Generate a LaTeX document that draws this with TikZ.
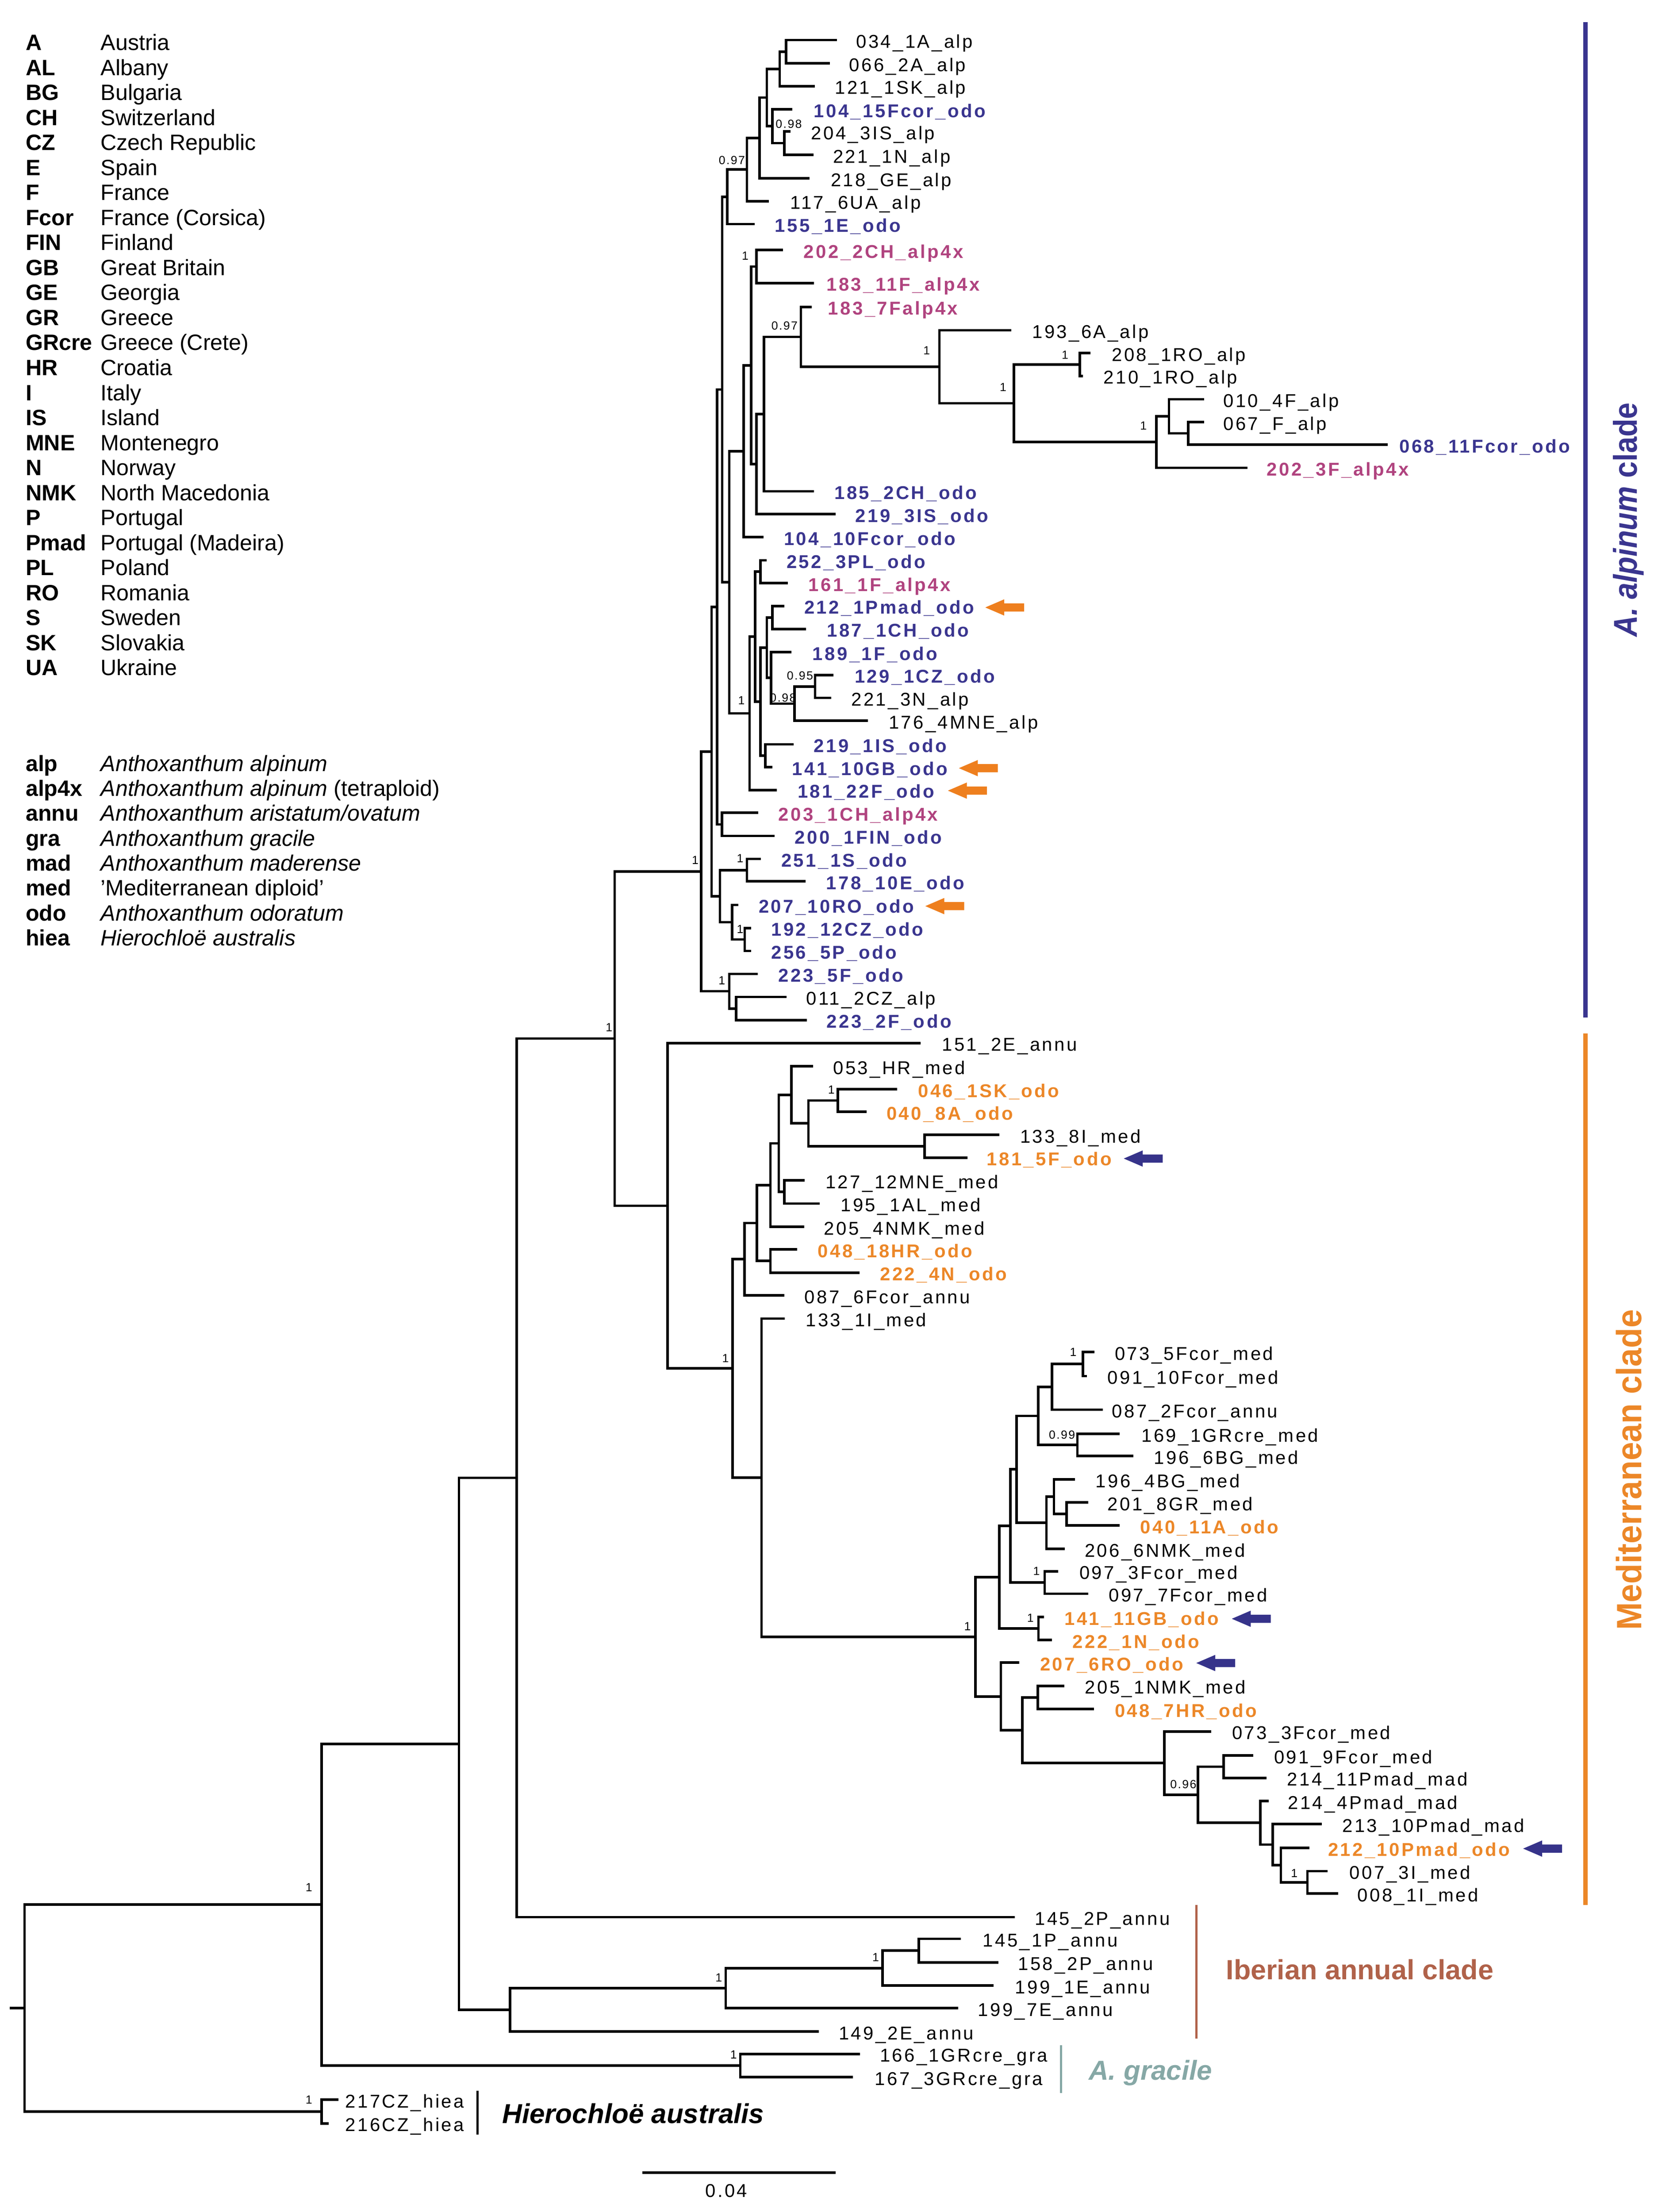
\documentclass[tikz,border=0pt]{standalone}
\usepackage{fontspec}
\setmainfont{Liberation Sans}
\newfontfamily\labf[LetterSpace=10.5]{Liberation Sans}
\newfontfamily\supf[LetterSpace=9]{Liberation Sans}
\usetikzlibrary{calc}
\definecolor{cblue}{HTML}{3A358F}
\definecolor{cpink}{HTML}{B0437F}
\definecolor{corange}{HTML}{EC8728}
\definecolor{cbrown}{HTML}{B0624A}
\definecolor{cteal}{HTML}{86A8A6}
\definecolor{aorange}{HTML}{EE7F1E}
\definecolor{ablue}{HTML}{36338A}
\tikzset{
  br/.style={line width=1.8pt},
  lab/.style={inner sep=0pt, anchor=base west, font=\labf\fontsize{13.2}{14}\selectfont},
  labk/.style={lab, text=black},
  labb/.style={lab, text=cblue, font=\labf\fontsize{13.2}{14}\selectfont\bfseries},
  labp/.style={lab, text=cpink, font=\labf\fontsize{13.2}{14}\selectfont\bfseries},
  labo/.style={lab, text=corange, font=\labf\fontsize{13.2}{14}\selectfont\bfseries},
  supl/.style={inner sep=0pt, font=\supf\fontsize{8.4}{9}\selectfont},
  legb/.style={inner sep=0pt, anchor=base west, font=\fontsize{15.8}{17}\selectfont\bfseries},
  legn/.style={inner sep=0pt, anchor=base west, font=\fontsize{15.8}{17}\selectfont},
  cladebar/.style={line width=1.6pt},
}
% leaf: name, tip x, y, label x, style, text
\newcommand\leafnode[6]{%
  \coordinate (#1) at (#2,-#3);
  \node[#5] (#1l) at (#4,-#3-5.7) {#6};
}
% clade: name, x, child1, child2
\newcommand\cladenode[4]{%
  \path let \p1=(#3), \p2=(#4) in coordinate (#1) at (#2pt,{0.5*(\y1+\y2)});
  \draw[br] (#3) -| (#1) |- (#4);
}
% block arrow pointing left: tip x, y, colour
\newcommand\markarrow[3]{%
  \fill[#3] (#1,-#2) -- ++(13.5,5.8) -- ++(0,-2.9) -- ++(14.2,0) -- ++(0,-5.8) -- ++(-14.2,0) -- ++(0,-2.9) -- cycle;
}
\begin{document}
\begin{tikzpicture}[x=1pt,y=1pt]
\useasboundingbox (0,0) rectangle (1183,-1574.6);
\fill[white] (0,0) rectangle (1183,-1574.6);

% ---------------- legend ----------------
\foreach \ab/\nm [count=\i from 0] in {A/Austria, AL/Albany, BG/Bulgaria, CH/Switzerland, CZ/Czech Republic, E/Spain, F/France, Fcor/France (Corsica), FIN/Finland, GB/Great Britain, GE/Georgia, GR/Greece, GRcre/Greece (Crete), HR/Croatia, I/Italy, IS/Island, MNE/Montenegro, N/Norway, NMK/North Macedonia, P/Portugal, Pmad/Portugal (Madeira), PL/Poland, RO/Romania, S/Sweden, SK/Slovakia, UA/Ukraine}
{
  \node[legb] (la\i) at (18.1,{-35.8-17.8*\i}) {\ab};
  \node[legn] (ln\i) at (71.5,{-35.8-17.8*\i}) {\nm};
}
\foreach \ab/\nm [count=\i from 0] in {alp/{\textit{Anthoxanthum alpinum}}, alp4x/{\textit{Anthoxanthum alpinum} (tetraploid)}, annu/{\textit{Anthoxanthum aristatum/ovatum}}, gra/{\textit{Anthoxanthum gracile}}, mad/{\textit{Anthoxanthum maderense}}, med/{'Mediterranean diploid'}, odo/{\textit{Anthoxanthum odoratum}}, hiea/{\textit{Hierochloë australis}}}
{
  \node[legb] (lb\i) at (18.1,{-548.9-17.76*\i}) {\ab};
  \node[legn] (lm\i) at (71.5,{-548.9-17.76*\i}) {\nm};
}

% ---------------- leaves ----------------
\leafnode{t1}{595.7}{28.5}{609.3}{labk}{034\_1A\_alp}
\leafnode{t2}{590.9}{45.1}{604.4}{labk}{066\_2A\_alp}
\leafnode{t3}{580.2}{61.3}{594.2}{labk}{121\_1SK\_alp}
\leafnode{t4}{564.1}{77.8}{579.2}{labb}{104\_15Fcor\_odo}
\leafnode{t5}{562.7}{93.6}{577.3}{labk}{204\_3IS\_alp}
\leafnode{t6}{579.2}{110.2}{592.8}{labk}{221\_1N\_alp}
\leafnode{t7}{576.3}{126.9}{591.3}{labk}{218\_GE\_alp}
\leafnode{t8}{547.2}{143.2}{562.4}{labk}{117\_6UA\_alp}
\leafnode{t9}{537.2}{159.5}{551.5}{labb}{155\_1E\_odo}
\leafnode{t10}{557.3}{178}{572}{labp}{202\_2CH\_alp4x}
\leafnode{t11}{579.6}{201.5}{588.2}{labp}{183\_11F\_alp4x}
\leafnode{t12}{578}{218.5}{589.3}{labp}{183\_7Falp4x}
\leafnode{t13}{720}{235.1}{734.6}{labk}{193\_6A\_alp}
\leafnode{t14}{776.3}{251.3}{791.3}{labk}{208\_1RO\_alp}
\leafnode{t15}{770.9}{267.6}{785.4}{labk}{210\_1RO\_alp}
\leafnode{t16}{857.1}{284.2}{870.7}{labk}{010\_4F\_alp}
\leafnode{t17}{857.1}{300.5}{870.7}{labk}{067\_F\_alp}
\leafnode{t18}{988}{316.5}{996}{labb}{068\_11Fcor\_odo}
\leafnode{t19}{888}{333}{901.6}{labp}{202\_3F\_alp4x}
\leafnode{t20}{579.3}{349.7}{593.9}{labb}{185\_2CH\_odo}
\leafnode{t21}{594.8}{366}{608.8}{labb}{219\_3IS\_odo}
\leafnode{t22}{543.4}{382.3}{557.9}{labb}{104\_10Fcor\_odo}
\leafnode{t23}{545.7}{398.8}{559.8}{labb}{252\_3PL\_odo}
\leafnode{t24}{560.8}{415.1}{575.4}{labp}{161\_1F\_alp4x}
\leafnode{t25}{558.3}{431.4}{572.4}{labb}{212\_1Pmad\_odo}
\leafnode{t26}{573.8}{447.7}{588.5}{labb}{187\_1CH\_odo}
\leafnode{t27}{563.3}{464.2}{578.3}{labb}{189\_1F\_odo}
\leafnode{t28}{593.4}{480.5}{608.3}{labb}{129\_1CZ\_odo}
\leafnode{t29}{591.8}{496.8}{605.8}{labk}{221\_3N\_alp}
\leafnode{t30}{618}{513.1}{632.5}{labk}{176\_4MNE\_alp}
\leafnode{t31}{565.1}{529.8}{579.2}{labb}{219\_1IS\_odo}
\leafnode{t32}{549.8}{546.1}{563.7}{labb}{141\_10GB\_odo}
\leafnode{t33}{553.1}{562.4}{567.6}{labb}{181\_22F\_odo}
\leafnode{t34}{539.9}{578.6}{554}{labp}{203\_1CH\_alp4x}
\leafnode{t35}{551.5}{595}{565.7}{labb}{200\_1FIN\_odo}
\leafnode{t36}{541.8}{611.4}{556}{labb}{251\_1S\_odo}
\leafnode{t37}{573.4}{627.4}{588}{labb}{178\_10E\_odo}
\leafnode{t38}{525.5}{644.2}{539.9}{labb}{207\_10RO\_odo}
\leafnode{t39}{534.6}{660.6}{548.8}{labb}{192\_12CZ\_odo}
\leafnode{t40}{534.6}{676.9}{548.8}{labb}{256\_5P\_odo}
\leafnode{t41}{539.5}{693.3}{554}{labb}{223\_5F\_odo}
\leafnode{t42}{559.8}{709.7}{573.8}{labk}{011\_2CZ\_alp}
\leafnode{t43}{574.4}{726.1}{588.3}{labb}{223\_2F\_odo}
\leafnode{t44}{655.4}{742.5}{670.4}{labk}{151\_2E\_annu}
\leafnode{t45}{578.8}{759}{592.9}{labk}{053\_HR\_med}
\leafnode{t46}{638.5}{775.3}{653.4}{labo}{046\_1SK\_odo}
\leafnode{t47}{616.8}{791.4}{630.9}{labo}{040\_8A\_odo}
\leafnode{t48}{711.3}{807.8}{726}{labk}{133\_8I\_med}
\leafnode{t49}{688.7}{824.1}{702.3}{labo}{181\_5F\_odo}
\leafnode{t50}{572.8}{840.2}{587.5}{labk}{127\_12MNE\_med}
\leafnode{t51}{583.4}{856.7}{598.3}{labk}{195\_1AL\_med}
\leafnode{t52}{572.6}{873.3}{586.4}{labk}{205\_4NMK\_med}
\leafnode{t53}{567.4}{889.3}{582}{labo}{048\_18HR\_odo}
\leafnode{t54}{611.9}{905.9}{626.3}{labo}{222\_4N\_odo}
\leafnode{t55}{558.4}{922.1}{572.6}{labk}{087\_6Fcor\_annu}
\leafnode{t56}{558.8}{938.6}{573.4}{labk}{133\_1I\_med}
\leafnode{t57}{779}{962.4}{793.4}{labk}{073\_5Fcor\_med}
\leafnode{t58}{773.6}{979.5}{788.3}{labk}{091\_10Fcor\_med}
\leafnode{t59}{785}{1003.5}{791.5}{labk}{087\_2Fcor\_annu}
\leafnode{t60}{796.9}{1020.7}{812.4}{labk}{169\_1GRcre\_med}
\leafnode{t61}{806.9}{1036.4}{821.3}{labk}{196\_6BG\_med}
\leafnode{t62}{765.1}{1053.1}{779.8}{labk}{196\_4BG\_med}
\leafnode{t63}{774.8}{1069.5}{788.3}{labk}{201\_8GR\_med}
\leafnode{t64}{796.9}{1085.8}{811.6}{labo}{040\_11A\_odo}
\leafnode{t65}{758.1}{1102.5}{772}{labk}{206\_6NMK\_med}
\leafnode{t66}{753.4}{1118.5}{768.2}{labk}{097\_3Fcor\_med}
\leafnode{t67}{774.8}{1134.5}{789.1}{labk}{097\_7Fcor\_med}
\leafnode{t68}{743.1}{1151.1}{757.6}{labo}{141\_11GB\_odo}
\leafnode{t69}{748.9}{1167.5}{763.4}{labo}{222\_1N\_odo}
\leafnode{t70}{725.6}{1183.5}{740.2}{labo}{207\_6RO\_odo}
\leafnode{t71}{757.6}{1200.1}{772.2}{labk}{205\_1NMK\_med}
\leafnode{t72}{778.8}{1216.6}{793.4}{labo}{048\_7HR\_odo}
\leafnode{t73}{862.3}{1232.5}{876.9}{labk}{073\_3Fcor\_med}
\leafnode{t74}{892.3}{1249.6}{906.8}{labk}{091\_9Fcor\_med}
\leafnode{t75}{901.6}{1265.6}{916.1}{labk}{214\_11Pmad\_mad}
\leafnode{t76}{903.1}{1282}{916.7}{labk}{214\_4Pmad\_mad}
\leafnode{t77}{940.9}{1298.4}{955.4}{labk}{213\_10Pmad\_mad}
\leafnode{t78}{932.1}{1315.5}{945.2}{labo}{212\_10Pmad\_odo}
\leafnode{t79}{945.2}{1331.9}{960.6}{labk}{007\_3I\_med}
\leafnode{t80}{952.5}{1347.9}{966.2}{labk}{008\_1I\_med}
\leafnode{t81}{722.5}{1364.7}{736.5}{labk}{145\_2P\_annu}
\leafnode{t82}{684.1}{1380.1}{699.5}{labk}{145\_1P\_annu}
\leafnode{t83}{710.7}{1396.9}{724.6}{labk}{158\_2P\_annu}
\leafnode{t84}{707.2}{1413.4}{722.5}{labk}{199\_1E\_annu}
\leafnode{t85}{682}{1429.5}{696}{labk}{199\_7E\_annu}
\leafnode{t86}{582.9}{1446.1}{596.9}{labk}{149\_2E\_annu}
\leafnode{t87}{612.2}{1462.1}{626.2}{labk}{166\_1GRcre\_gra}
\leafnode{t88}{607.3}{1478.5}{622.7}{labk}{167\_3GRcre\_gra}
\leafnode{t89}{240.8}{1494.6}{245.7}{labk}{217CZ\_hiea}
\leafnode{t90}{233.9}{1511.5}{245.7}{labk}{216CZ\_hiea}

% ---------------- clades: A. alpinum ----------------
\cladenode{n1}{559.5}{t1}{t2}
\cladenode{n2}{555}{n1}{t3}
\cladenode{n3}{558.3}{t5}{t6}
\cladenode{n4}{549.8}{t4}{n3}
\cladenode{n5}{545.9}{n2}{n4}
\cladenode{n6}{540.8}{n5}{t7}
\cladenode{n7}{531.7}{n6}{t8}
\cladenode{n8}{517.8}{n7}{t9}
\cladenode{p1}{538.5}{t10}{t11}
\cladenode{b1}{768.6}{t14}{t15}
\cladenode{b2}{845.8}{t17}{t18}
\cladenode{b3}{832.2}{t16}{b2}
\cladenode{b4}{823.1}{b3}{t19}
\cladenode{b5}{721.9}{b1}{b4}
\cladenode{b6}{668.7}{t13}{b5}
\cladenode{p2}{570.2}{t12}{b6}
\cladenode{p3}{543.9}{p2}{t20}
\cladenode{p4}{538.5}{p3}{t21}
\cladenode{p5}{534.8}{p1}{p4}
\cladenode{p6}{529.4}{p5}{t22}
\cladenode{q1}{541.4}{t23}{t24}
\cladenode{q2}{549.8}{t25}{t26}
\cladenode{q3}{580.2}{t28}{t29}
\cladenode{q4}{565.7}{q3}{t30}
\cladenode{q5}{548.8}{t27}{q4}
\cladenode{q6}{545.9}{q2}{q5}
\cladenode{q7}{544.9}{t31}{t32}
\cladenode{q8}{541.4}{q6}{q7}
\cladenode{q9}{537.5}{q1}{q8}
\cladenode{q10}{533.6}{q9}{t33}
\cladenode{F}{519.1}{p6}{q10}
\cladenode{G}{514.1}{n8}{F}
\cladenode{r1}{513.9}{t34}{t35}
\cladenode{H}{510.4}{G}{r1}
\cladenode{s1}{531.7}{t36}{t37}
\cladenode{s2}{530.2}{t39}{t40}
\cladenode{s3}{521.1}{t38}{s2}
\cladenode{K}{512.5}{s1}{s3}
\cladenode{I}{506.5}{H}{K}
\cladenode{aa1}{524}{t42}{t43}
\cladenode{aa2}{519.1}{t41}{aa1}
\cladenode{J}{499.1}{I}{aa2}

% ---------------- clades: Mediterranean ----------------
\cladenode{m1}{596.4}{t46}{t47}
\cladenode{m2}{658.1}{t48}{t49}
\cladenode{m3}{575.5}{m1}{m2}
\cladenode{m4}{563.3}{t45}{m3}
\cladenode{m5}{558.4}{t50}{t51}
\cladenode{m6}{554.4}{m4}{m5}
\cladenode{m7}{548.4}{m6}{t52}
\cladenode{m8}{548.4}{t53}{t54}
\cladenode{m9}{538.9}{m7}{m8}
\cladenode{m10}{530}{m9}{t55}
\cladenode{u1}{770.9}{t57}{t58}
\cladenode{u2}{748.8}{u1}{t59}
\cladenode{u3}{767}{t60}{t61}
\cladenode{u5}{739.1}{u2}{u3}
\cladenode{u6}{759.2}{t63}{t64}
\cladenode{u7}{750.3}{t62}{u6}
\cladenode{u9}{744.9}{u7}{t65}
\cladenode{M6}{723.6}{u5}{u9}
\cladenode{v1}{743.7}{t66}{t67}
\cladenode{M5}{719.3}{M6}{v1}
\cladenode{w1}{739.3}{t68}{t69}
\cladenode{M3}{711.4}{M5}{w1}
\cladenode{x1}{738.7}{t71}{t72}
\cladenode{y1}{871}{t74}{t75}
\cladenode{z1}{930.7}{t79}{t80}
\cladenode{M12}{911.8}{t78}{z1}
\cladenode{M11}{906}{t77}{M12}
\cladenode{M10}{897.2}{t76}{M11}
\cladenode{M9}{852.7}{y1}{M10}
\cladenode{M8}{828.9}{t73}{M9}
\cladenode{M7}{727.7}{x1}{M8}
\cladenode{M4}{712.5}{t70}{M7}
\cladenode{M2}{694.5}{M3}{M4}
\cladenode{M1}{542.1}{t56}{M2}
\cladenode{m11}{521.6}{m10}{M1}
\cladenode{Med}{475.1}{t44}{m11}

% ---------------- backbone ----------------
\cladenode{N437}{437.6}{J}{Med}
\cladenode{N367}{367.9}{N437}{t81}
\cladenode{i1}{654.1}{t82}{t83}
\cladenode{i2}{628.3}{i1}{t84}
\cladenode{i3}{516.6}{i2}{t85}
\cladenode{i4}{363}{i3}{t86}
\cladenode{N327}{326.7}{N367}{i4}
\cladenode{g1}{527}{t87}{t88}
\cladenode{N229}{229}{N327}{g1}
\cladenode{h1}{229}{t89}{t90}
\cladenode{root}{17.5}{N229}{h1}
\path let \p1=(root) in coordinate (rootstub) at (7pt,\y1);
\draw[br] (rootstub) -- (root);

% ---------------- support values ----------------
\foreach \x/\y/\t [count=\i] in {521/114/0.97, 561.5/88.2/0.98, 530.5/182/1, 558.5/232/0.97, 659.7/249.6/1, 758.2/252.7/1, 714.1/275.8/1, 814/302.9/1, 569.5/481/0.95, 557.4/496.6/0.98, 527.8/498.6/1, 494.9/612.3/1, 526.9/611/1, 526.9/661.4/1, 513.9/698/1, 433.6/731.4/1, 591.8/775.6/1, 516.5/967/1, 764/962.5/1, 756/1021.5/0.99, 737.9/1118.5/1, 733.5/1151.8/1, 688.7/1157.7/1, 842.4/1270/0.96, 921.4/1333.6/1, 623.4/1393.3/1, 511.7/1407.8/1, 522.2/1462.5/1, 219.9/1343.5/1, 219.9/1494.6/1}
  \node[supl] (sv\i) at (\x,-\y) {\t};

% ---------------- arrows ----------------
\markarrow{701.4}{432.4}{aorange}
\markarrow{682.6}{546.8}{aorange}
\markarrow{674.8}{562.8}{aorange}
\markarrow{658.7}{645}{aorange}
\markarrow{800}{824.7}{ablue}
\markarrow{876.9}{1152.3}{ablue}
\markarrow{851.6}{1183.8}{ablue}
\markarrow{1084.3}{1315.9}{ablue}

% ---------------- clade bars and names ----------------
\coordinate (alpA) at (1128.6,-15.7);
\coordinate (alpB) at (1128.6,-724.3);
\draw[line width=3pt, cblue] (alpA) -- (alpB);
\coordinate (medA) at (1128.6,-735.6);
\coordinate (medB) at (1128.6,-1356);
\draw[line width=3pt, corange] (medA) -- (medB);
\node[rotate=90, anchor=base, inner sep=0pt, text=cblue, font=\fontsize{21}{21}\selectfont\bfseries] (alpname) at (1165.5,-370) {\scalebox{1}[1.12]{\textit{A. alpinum} clade}};
\node[rotate=90, anchor=base, inner sep=0pt, text=corange, font=\fontsize{23.6}{24}\selectfont\bfseries] (medname) at (1168.4,-1046.3) {\scalebox{1}[1.06]{Mediterranean clade}};

\coordinate (ibA) at (851.7,-1356);
\coordinate (ibB) at (851.7,-1451.2);
\draw[cladebar, cbrown] (ibA) -- (ibB);
\node[anchor=base west, inner sep=0pt, text=cbrown, font=\fontsize{19.8}{20}\selectfont\bfseries] (ibname) at (872.6,-1409) {Iberian annual clade};

\coordinate (grA) at (755.3,-1455.7);
\coordinate (grB) at (755.3,-1489.8);
\draw[cladebar, cteal] (grA) -- (grB);
\node[anchor=base west, inner sep=0pt, text=cteal, font=\fontsize{19.5}{20}\selectfont\bfseries\itshape] (grname) at (774.9,-1480.5) {A. gracile};

\coordinate (hiA) at (340,-1488.2);
\coordinate (hiB) at (340,-1519.5);
\draw[cladebar, black] (hiA) -- (hiB);
\node[anchor=base west, inner sep=0pt, font=\fontsize{19.5}{20}\selectfont\bfseries\itshape] (hiname) at (357.4,-1511.3) {Hierochloë australis};

% ---------------- scale bar ----------------
\coordinate (sbA) at (457.2,-1546.5);
\coordinate (sbB) at (594.8,-1546.5);
\draw[br] (sbA) -- (sbB);
\node[labk, anchor=base] (sbl) at (517,-1564) {0.04};
\end{tikzpicture}
\end{document}
